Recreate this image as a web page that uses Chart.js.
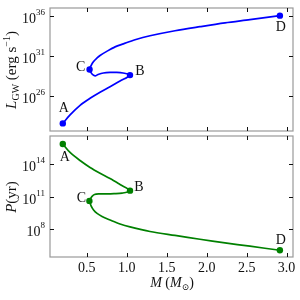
<!DOCTYPE html>
<html><head><meta charset="utf-8">
<script src="https://cdn.jsdelivr.net/npm/chart.js@4.4.1/dist/chart.umd.min.js"></script>
<style>
html,body{margin:0;padding:0;background:#fff;}
#wrap{position:relative;width:300px;height:300px;}
canvas{position:absolute;left:0;top:0;}
</style></head>
<body><div id="wrap"><canvas id="c1" width="300" height="300"></canvas><canvas id="c2" width="300" height="300"></canvas></div>
<script>
// ---- data ----
const xTicks = [0.5, 1.0, 1.5, 2.0, 2.5, 3.0];
const lumTickExps = [26, 31, 36];
const perTickExps = [8, 11, 14];
const pointNames = ['A', 'B', 'C', 'D'];

// L_GW curve: mass (Msun) and log10 L (erg/s)
const lumMass = [0.20, 0.291, 0.416, 0.541, 0.666, 0.791, 0.916, 1.041,
                 0.954, 0.875, 0.791, 0.708, 0.641, 0.604, 0.566, 0.535,
                 0.554, 0.585, 0.629, 0.666, 0.75, 0.854, 0.958, 1.104, 1.291, 1.604, 1.916, 2.229, 2.541, 2.916];
const lumLog  = [22.55, 23.62, 24.82, 25.70, 26.46, 27.15, 27.85, 28.60,
                 28.86, 28.94, 28.94, 28.86, 28.67, 28.50, 28.73, 29.30,
                 29.80, 30.31, 30.75, 31.06, 31.57, 32.13, 32.51, 33.02, 33.52, 34.15, 34.66, 35.14, 35.54, 36.04];
const lumMarkMass = [0.20, 1.041, 0.535, 2.916];
const lumMarkLog  = [22.55, 28.60, 29.30, 36.04];

// P curve: mass (Msun) and log10 P (yr)
const perMass = [0.20, 0.291, 0.416, 0.541, 0.666, 0.791, 0.916, 1.041,
                 0.941, 0.841, 0.741, 0.654, 0.597, 0.566, 0.545, 0.533,
                 0.554, 0.585, 0.629, 0.691, 0.791, 0.916, 1.041, 1.291, 1.604, 1.916, 2.229, 2.541, 2.916];
const perLog  = [15.84, 15.06, 14.32, 13.68, 13.15, 12.67, 12.12, 11.55,
                 11.32, 11.27, 11.25, 11.25, 11.20, 11.02, 10.79, 10.61,
                 10.15, 9.78, 9.46, 9.18, 8.86, 8.49, 8.22, 7.80, 7.44, 7.09, 6.75, 6.45, 6.08];
const perMarkMass = [0.20, 1.041, 0.533, 2.916];
const perMarkLog  = [15.84, 11.55, 10.61, 6.08];

// ---- helpers ----
const SERIF = '"Liberation Serif", "DejaVu Serif", serif';
function pts(xs, logs){ return xs.map((x,i)=>({x:x, y:Math.pow(10, logs[i])})); }

function drawRich(ctx, parts, x, y, align){
  let w = 0;
  parts.forEach(p=>{ ctx.font = (p[2]?'italic ':'') + p[1] + 'px ' + SERIF; w += ctx.measureText(p[0]).width; });
  let cx = align==='center' ? x - w/2 : (align==='right' ? x - w : x);
  ctx.textBaseline = 'alphabetic'; ctx.textAlign = 'left';
  parts.forEach(p=>{ ctx.font = (p[2]?'italic ':'') + p[1] + 'px ' + SERIF; ctx.fillText(p[0], cx, y + (p[3]||0)); cx += ctx.measureText(p[0]).width; });
}

function framePlugin(cfg){
  return {
    id: 'frame' + cfg.id,
    afterDatasetsDraw(chart){
      const ctx = chart.ctx, a = chart.chartArea, xs = chart.scales.x, ys = chart.scales.y;
      ctx.save();
      ctx.strokeStyle = '#999'; ctx.lineWidth = 1.2;
      ctx.strokeRect(a.left, a.top, a.right - a.left, a.bottom - a.top);
      ctx.strokeStyle = '#111'; ctx.lineWidth = 1;
      ctx.beginPath();
      xTicks.forEach(v=>{ const px = Math.round(xs.getPixelForValue(v)) + 0.5;
        ctx.moveTo(px, a.top); ctx.lineTo(px, a.top + 4);
        ctx.moveTo(px, a.bottom); ctx.lineTo(px, a.bottom - 4); });
      cfg.yExps.forEach(e=>{ const py = Math.round(ys.getPixelForValue(Math.pow(10, e))) + 0.5;
        ctx.moveTo(a.left, py); ctx.lineTo(a.left + 4, py);
        ctx.moveTo(a.right, py); ctx.lineTo(a.right - 4, py); });
      ctx.stroke();
      ctx.fillStyle = '#111';
      cfg.yExps.forEach(e=>{
        const py = ys.getPixelForValue(Math.pow(10, e));
        ctx.font = '9px ' + SERIF; const sw = ctx.measureText(String(e)).width;
        ctx.font = '14px ' + SERIF; const bw = ctx.measureText('10').width;
        const right = a.left - 5;
        ctx.textAlign = 'left'; ctx.textBaseline = 'alphabetic';
        ctx.fillText('10', right - sw - bw, py + 7);
        ctx.font = '9px ' + SERIF;
        ctx.fillText(String(e), right - sw, py - 1);
      });
      if (cfg.xLabels){
        ctx.font = '14px ' + SERIF; ctx.textAlign = 'center'; ctx.textBaseline = 'alphabetic';
        xTicks.forEach(v=>{ ctx.fillText(v.toFixed(1), xs.getPixelForValue(v), a.bottom + 15); });
        drawRich(ctx, [['M',14,true,0],[' (',14,false,0],['M',14,true,0],['\u2299',9,false,3],[')',14,false,0]], 172, a.bottom + 30, 'center');
      }
      ctx.save();
      ctx.translate(cfg.titleX, cfg.titleY); ctx.rotate(-Math.PI/2);
      drawRich(ctx, cfg.title, 0, 0, 'center');
      ctx.restore();
      ctx.font = '14px ' + SERIF; ctx.textAlign = 'center'; ctx.textBaseline = 'middle';
      cfg.markX.forEach((m,i)=>{
        const px = xs.getPixelForValue(m), py = ys.getPixelForValue(Math.pow(10, cfg.markY[i]));
        const off = cfg.labelOff[i];
        ctx.fillText(pointNames[i], px + off[0], py + off[1]);
      });
      ctx.restore();
    }
  };
}

function makeChart(id, cfg){
  return new Chart(document.getElementById(id), {
    type: 'scatter',
    data: { datasets: [
      { data: pts(cfg.xs, cfg.ys), showLine: true, borderColor: cfg.color, borderWidth: 1.7, tension: 0.3, pointRadius: 0, fill: false },
      { data: pts(cfg.markX, cfg.markY), showLine: false, pointRadius: 3.2, pointBackgroundColor: cfg.color, pointBorderColor: cfg.color, pointBorderWidth: 0 }
    ]},
    options: {
      responsive: false, animation: false, devicePixelRatio: 1,
      layout: { padding: cfg.padding },
      plugins: { legend: {display:false}, tooltip: {enabled:false}, title: {display:false} },
      scales: {
        x: { type:'linear', min:0.04, max:3.08, display:false },
        y: { type:'logarithmic', min:Math.pow(10,cfg.yMin), max:Math.pow(10,cfg.yMax), display:false }
      }
    },
    plugins: [framePlugin(cfg)]
  });
}

makeChart('c1', {
  id: 1, xs: lumMass, ys: lumLog, markX: lumMarkMass, markY: lumMarkLog, color: '#0000ff',
  yMin: 21.6, yMax: 37.0, yExps: lumTickExps, xLabels: false,
  padding: {left:50, right:7, top:8, bottom:169},
  labelOff: [[1,-15],[10,-4],[-9,-2],[1,12]],
  titleX: 16, titleY: 70,
  title: [['L',15,true,0],['GW',10,false,3],[' (erg s',15,false,0],['\u22121',10,false,-6],[')',15,false,0]]
});
makeChart('c2', {
  id: 2, xs: perMass, ys: perLog, markX: perMarkMass, markY: perMarkLog, color: '#008000',
  yMin: 5.46, yMax: 16.57, yExps: perTickExps, xLabels: true,
  padding: {left:50, right:7, top:136, bottom:43},
  labelOff: [[2,13],[9,-3],[-8,-3],[1,-10]],
  titleX: 16, titleY: 197,
  title: [['P',15,true,0],['(yr)',15,false,0]]
});
</script>
</body></html>
